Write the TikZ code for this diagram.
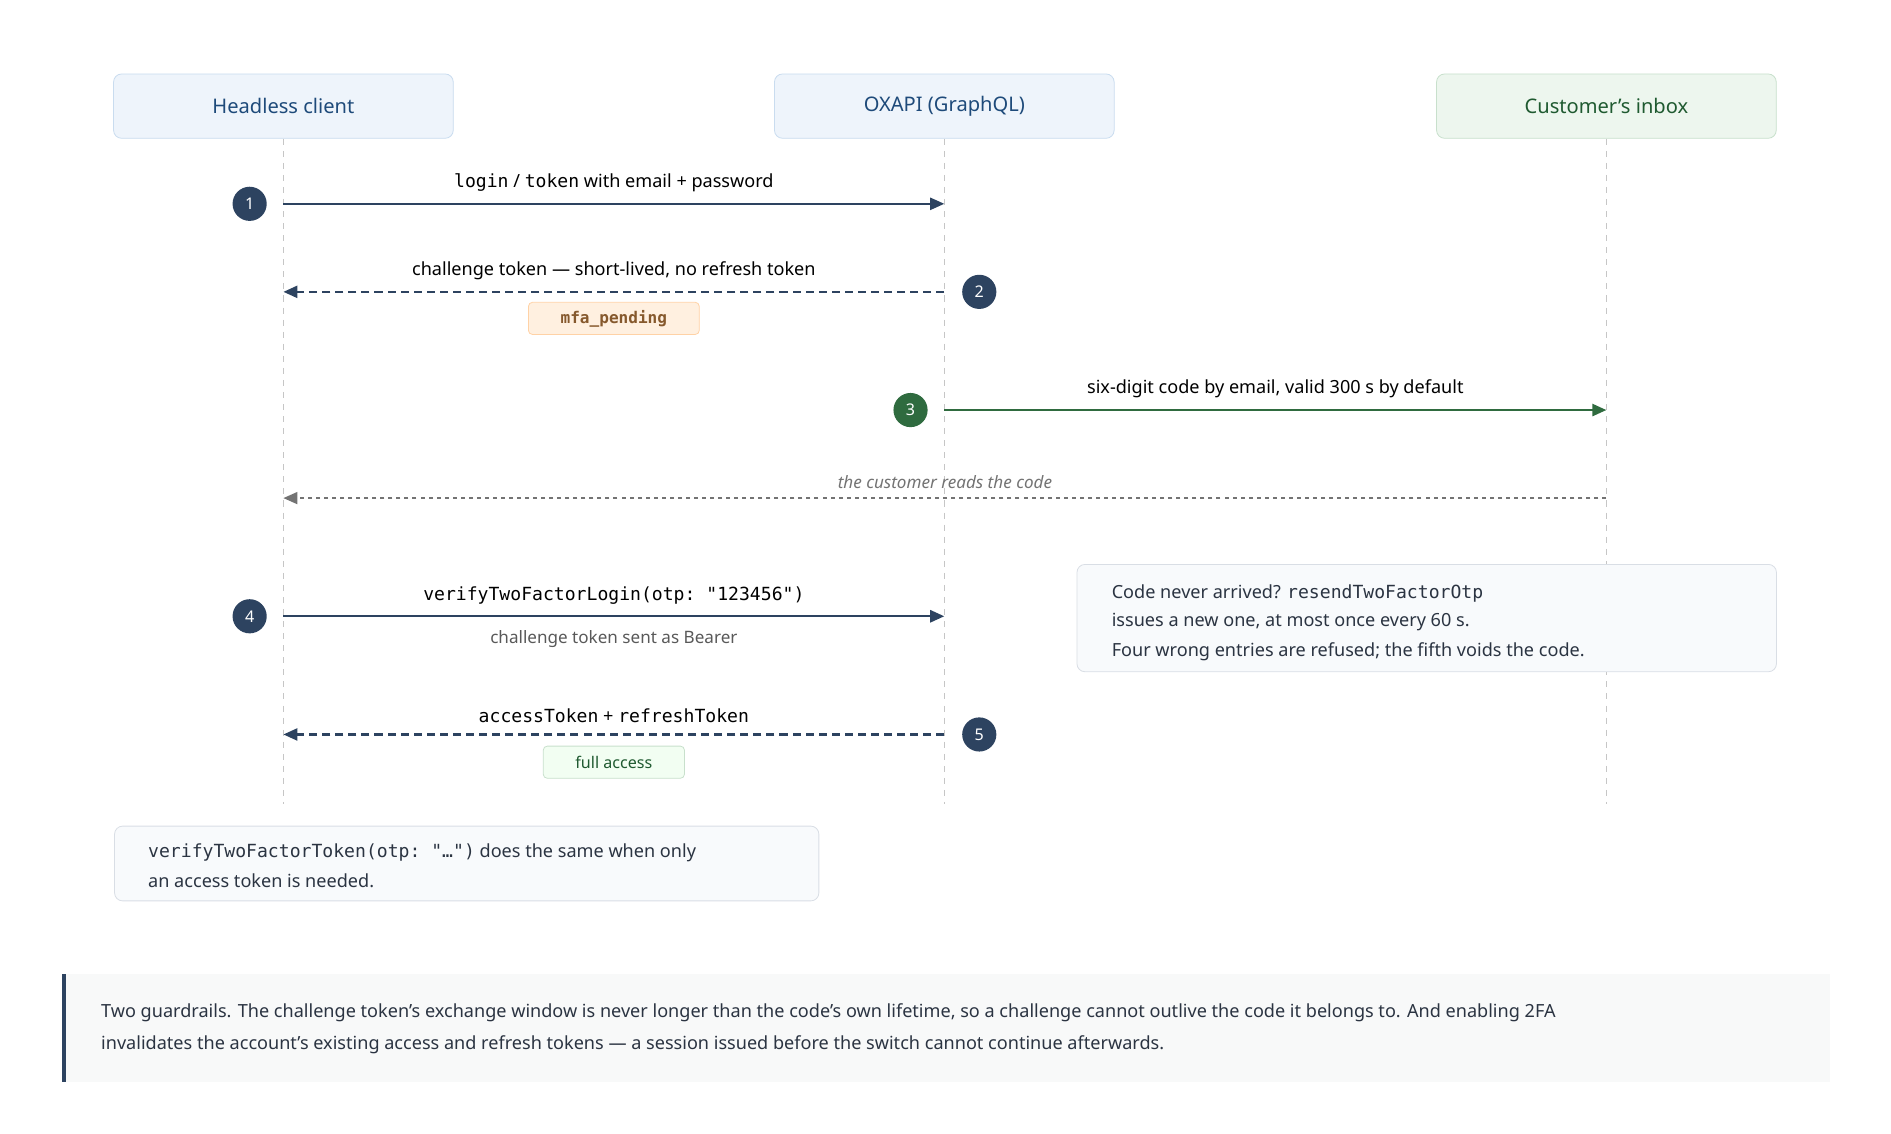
\documentclass[tikz,border=0pt]{standalone}
\usepackage{fontspec}
\setmainfont{Noto Sans}
\setmonofont{DejaVu Sans Mono}
\usetikzlibrary{arrows.meta,positioning}
\definecolor{navy}{HTML}{2D4360}
\definecolor{hdrtext}{HTML}{1E4A7A}
\definecolor{hdrfill}{HTML}{EEF4FB}
\definecolor{hdrline}{HTML}{C9DCEF}
\definecolor{grnfill}{HTML}{EDF6EE}
\definecolor{grnline}{HTML}{C8E0CC}
\definecolor{grntext}{HTML}{1F5A30}
\definecolor{grnarrow}{HTML}{2F6B3F}
\definecolor{notefill}{HTML}{F8FAFC}
\definecolor{noteline}{HTML}{D9DEE5}
\definecolor{bodytext}{HTML}{2B3442}
\begin{document}
\begin{tikzpicture}[x=0.6pt, y=-0.6pt, font=\fontsize{9}{11}\selectfont,
header/.style={draw=hdrline, fill=hdrfill, rounded corners=4pt, minimum width=169pt, minimum height=32pt, text=hdrtext, font=\fontsize{10}{12}\selectfont\bfseries},
stepno/.style={circle, fill=navy, text=white, inner sep=0pt, minimum size=17pt, font=\fontsize{8}{9}\selectfont\bfseries},
msg/.style={navy, line width=1pt, -{Triangle[length=7pt,width=6pt]}},
reply/.style={msg, dash pattern=on 4pt off 2.5pt, line width=1.2pt},
life/.style={gray!45, dash pattern=on 3pt off 3pt, line width=.6pt},
badge/.style={rounded corners=2pt, inner xsep=16pt, minimum height=16pt, font=\fontsize{8}{10}\selectfont\bfseries},
note/.style={draw=noteline, fill=notefill, rounded corners=4pt}]

\useasboundingbox (0,0) rectangle (1568,940);

%%%%%%%% LIFELINES %%%%%%%%%%%%%
\node[header] (client) at (235,88) {Headless client};
\node[header] (api) at (783,88) {OXAPI (GraphQL)};
\node[header, fill=grnfill, draw=grnline, text=grntext] (inbox) at (1332,88) {Customer's inbox};
\foreach \who in {client,api,inbox}{
  \coordinate (\who end) at (\who |- 0,667);
  \draw[life] (\who.south) -- (\who end);
}
%%%%%%%%%%%%%%%%%%%%%%%%%%%

% 1: login
\coordinate (c1) at (235,169); \coordinate (a1) at (783,169);
\draw[msg] (c1) -- (a1) node[midway, above=2pt, text=black] {\texttt{login} / \texttt{token} with email + password};
\node[stepno] (s1) at (207,169) {1};

% 2: challenge token
\coordinate (c2) at (235,242); \coordinate (a2) at (783,242);
\draw[reply] (a2) -- (c2) node[midway, above=2pt, text=black] {\textbf{challenge token} — short-lived, no refresh token};
\node[stepno] (s2) at (812,242) {2};
\node[badge, fill=orange!12, draw=orange!35, text=brown!70!black] (mfa) at (509,264) {\ttfamily\bfseries mfa\_pending};

% 3: code by email
\coordinate (a3) at (783,340); \coordinate (i3) at (1332,340);
\draw[msg, grnarrow, line width=1.2pt] (a3) -- (i3) node[midway, above=2pt, text=black] {\textbf{six-digit code} by email, valid 300 s by default};
\node[stepno, fill=grnarrow] (s3) at (755,340) {3};

% customer reads
\coordinate (i4) at (1332,413); \coordinate (c4) at (235,413);
\draw[msg, gray!90!black, line width=.8pt, dash pattern=on 2pt off 2pt] (i4) -- (c4) node[pos=.5, above=1pt, text=gray!90!black, font=\fontsize{8.5}{10}\selectfont\itshape] {the customer reads the code};

% 4: verify
\coordinate (c5) at (235,511); \coordinate (a5) at (783,511);
\draw[msg, line width=1.2pt] (c5) -- (a5) node[midway, above=2pt, text=black] {\ttfamily verifyTwoFactorLogin(otp: "123456")}
  node[midway, below=3pt, text=gray!70!black, font=\fontsize{8.5}{10}\selectfont] {challenge token sent as Bearer};
\node[stepno] (s4) at (207,511) {4};

% resend note
\draw[note] (893,468) rectangle (1473,557);
\node[anchor=west, text=bodytext] (resend1) at (916,492) {\textbf{Code never arrived?} \texttt{resendTwoFactorOtp}};
\node[anchor=west, text=bodytext] (resend2) at (916,516) {issues a new one, at most once every 60 s.};
\node[anchor=west, text=bodytext] (resend3) at (916,540) {Four wrong entries are refused; the fifth voids the code.};

% 5: tokens
\coordinate (c6) at (235,609); \coordinate (a6) at (783,609);
\draw[reply] (a6) -- (c6) node[midway, above=2pt, text=black] {\texttt{accessToken} + \texttt{refreshToken}};
\node[stepno] (s5) at (812,609) {5};
\node[badge, fill=grnfill!80!green!20, draw=grnline, text=grntext] (full) at (509,632) {full access};

% token note
\draw[note] (95,685) rectangle (679,747);
\node[anchor=west, text=bodytext] (tok1) at (117,707) {\texttt{verifyTwoFactorToken(otp: "…")} does the same when only};
\node[anchor=west, text=bodytext] (tok2) at (117,730) {an access token is needed.};

% guardrails
\fill[notefill!60!gray!12] (51,808) rectangle (1517,897);
\fill[navy] (51,808) rectangle (55,897);
\node[anchor=west, text=bodytext] (guard1) at (78,840) {\textbf{Two guardrails.} The challenge token's exchange window is never longer than the code's own lifetime, so a challenge cannot outlive the code it belongs to. And enabling 2FA};
\node[anchor=west, text=bodytext] (guard2) at (78,866) {invalidates the account's existing access and refresh tokens — a session issued before the switch cannot continue afterwards.};
\end{tikzpicture}
\end{document}
